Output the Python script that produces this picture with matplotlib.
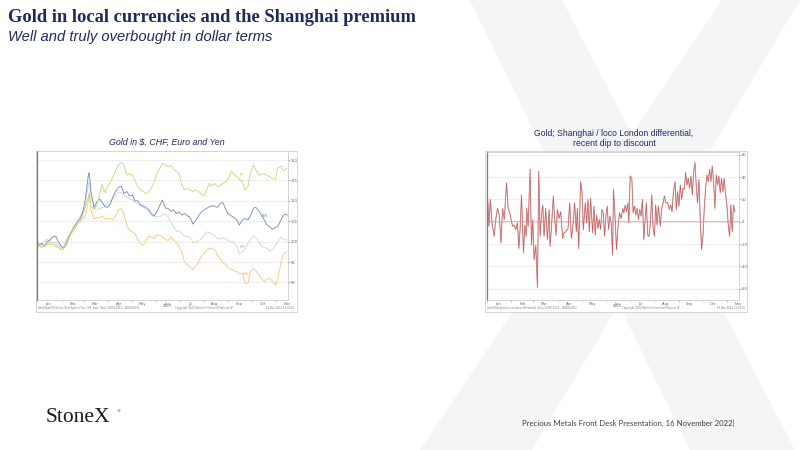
import matplotlib.pyplot as plt
import matplotlib.dates as mdates
from matplotlib.patches import Rectangle, Polygon
import pandas as pd

# ---------------- data ----------------
# left chart: gold indexed to 100 at end-2021, in four currencies
gold_dates = [
    "2021-12-31",
    "2022-01-03", "2022-01-06", "2022-01-10", "2022-01-13", "2022-01-17", "2022-01-20", "2022-01-24", "2022-01-27", "2022-01-31",
    "2022-02-03", "2022-02-07", "2022-02-10", "2022-02-14", "2022-02-17", "2022-02-21", "2022-02-24", "2022-02-28",
    "2022-03-03", "2022-03-07", "2022-03-08", "2022-03-10", "2022-03-14", "2022-03-17", "2022-03-21", "2022-03-24", "2022-03-28", "2022-03-31",
    "2022-04-04", "2022-04-07", "2022-04-11", "2022-04-14", "2022-04-18", "2022-04-21", "2022-04-25", "2022-04-28",
    "2022-05-02", "2022-05-05", "2022-05-09", "2022-05-12", "2022-05-16", "2022-05-19", "2022-05-23", "2022-05-26", "2022-05-30",
    "2022-06-02", "2022-06-06", "2022-06-09", "2022-06-13", "2022-06-16", "2022-06-20", "2022-06-23", "2022-06-27", "2022-06-30",
    "2022-07-04", "2022-07-07", "2022-07-11", "2022-07-14", "2022-07-18", "2022-07-21", "2022-07-25", "2022-07-28",
    "2022-08-01", "2022-08-04", "2022-08-08", "2022-08-11", "2022-08-15", "2022-08-18", "2022-08-22", "2022-08-25", "2022-08-29",
    "2022-09-01", "2022-09-05", "2022-09-08", "2022-09-12", "2022-09-15", "2022-09-19", "2022-09-22", "2022-09-26", "2022-09-29",
    "2022-10-03", "2022-10-06", "2022-10-10", "2022-10-13", "2022-10-17", "2022-10-20", "2022-10-24", "2022-10-27", "2022-10-31",
    "2022-11-03", "2022-11-07", "2022-11-10", "2022-11-14", "2022-11-15",
]
gold_usd = [
    100.0,
    98.9, 98.6, 98.9, 99.4, 99.8, 99.9, 99.3, 98.8, 98.1,
    98.2, 99.8, 101.1, 102.2, 103.0, 104.3, 104.7, 105.7,
    106.3, 110.2, 111.8, 107.8, 105.5, 106.0, 105.9, 106.3, 105.5, 105.7,
    105.6, 105.3, 106.5, 107.8, 108.1, 106.9, 103.8, 103.0,
    102.4, 102.0, 100.4, 99.4, 99.2, 100.2, 101.4, 101.1, 100.8,
    101.6, 101.6, 101.2, 100.6, 100.2, 101.1, 100.4, 99.8, 98.8,
    97.5, 95.1, 94.3, 93.9, 93.1, 93.9, 94.9, 96.2,
    97.1, 97.8, 98.3, 98.4, 98.0, 96.7, 95.7, 94.9, 94.3,
    93.5, 93.2, 92.9, 92.6, 92.1, 92.2, 89.8, 89.8, 92.6,
    93.5, 92.9, 91.8, 91.0, 90.2, 90.8, 91.0, 90.4, 89.4,
    91.0, 94.7, 97.0, 97.4, 97.5,
]
gold_jpy = [
    100.0,
    98.9, 98.8, 99.1, 99.3, 99.3, 99.4, 98.8, 98.6, 98.1,
    98.1, 100.0, 101.4, 102.7, 103.5, 104.7, 105.1, 106.5,
    108.6, 111.0, 112.0, 108.7, 107.9, 108.7, 111.4, 114.1, 112.0, 113.6,
    114.5, 115.9, 117.7, 118.8, 119.4, 118.8, 116.3, 116.6,
    116.3, 115.0, 113.5, 112.8, 112.3, 111.8, 112.3, 113.1, 114.7,
    116.7, 118.0, 119.2, 118.8, 118.4, 118.8, 117.7, 117.2, 116.7,
    113.9, 112.7, 113.1, 112.7, 112.3, 112.7, 112.3, 111.8,
    111.2, 112.5, 114.3, 113.6, 114.3, 113.5, 113.9, 114.3, 114.7,
    115.5, 117.2, 116.6, 115.9, 115.3, 114.7, 112.7, 113.5, 116.7,
    118.8, 117.6, 116.3, 116.6, 116.6, 116.3, 115.9, 115.5, 115.3,
    118.0, 118.6, 117.4, 118.0, 118.0,
]
gold_eur = [
    100.0,
    99.2, 99.6, 98.9, 100.0, 100.4, 101.1, 101.4, 100.2, 98.9,
    98.4, 99.4, 101.1, 102.7, 103.8, 104.9, 105.5, 107.4,
    110.6, 116.6, 116.9, 112.3, 108.4, 109.6, 110.4, 109.8, 108.6, 108.4,
    109.4, 111.0, 112.5, 113.3, 113.6, 111.8, 112.3, 111.2,
    111.4, 110.0, 110.0, 109.0, 108.7, 108.4, 107.8, 106.8, 106.3,
    107.4, 109.0, 110.2, 108.2, 108.2, 107.4, 107.8, 106.9, 107.3,
    106.5, 106.9, 106.3, 106.1, 104.3, 105.1, 106.3, 107.1,
    107.8, 108.1, 108.6, 108.8, 108.7, 108.4, 109.4, 109.6, 107.8,
    106.8, 106.3, 106.0, 105.3, 104.1, 105.3, 105.7, 105.3, 106.3,
    108.2, 108.4, 107.5, 106.5, 105.3, 104.1, 103.7, 103.0, 103.5,
    103.8, 105.3, 106.5, 106.8, 106.5,
]
gold_chf = [
    100.0,
    99.4, 99.1, 100.2, 100.6, 100.0, 99.8, 99.9, 99.4, 98.6,
    98.6, 100.8, 101.6, 102.9, 103.8, 105.1, 106.1, 107.4,
    109.0, 114.3, 114.7, 111.4, 108.4, 107.9, 108.1, 108.3, 108.6, 109.4,
    110.0, 110.4, 111.4, 112.0, 112.0, 111.4, 111.0, 110.4,
    110.2, 109.8, 109.2, 108.9, 108.4, 107.9, 107.4, 106.5, 106.1,
    106.1, 106.1, 106.5, 106.8, 106.1, 104.9, 103.7, 102.5, 102.7,
    101.9, 101.4, 101.2, 101.2, 99.8, 99.9, 100.2, 100.6,
    101.4, 102.4, 102.2, 101.9, 101.4, 100.8, 100.6, 101.1, 100.6,
    100.2, 100.0, 99.9, 98.8, 97.0, 97.5, 98.0, 99.6, 100.7,
    101.4, 101.1, 99.9, 98.9, 98.6, 98.4, 97.7, 98.0, 99.2,
    99.8, 101.1, 100.6, 100.4, 100.4,
]
gold_ticks = [90, 95, 100, 105, 110, 115, 120]

# right chart: Shanghai minus loco London, $/oz, by day of 2022
prem_days = [
    0.0, 0.8, 2.5, 4.2, 6.7, 9.2, 11.3, 13.4, 15.6, 17.7,
    19.8, 21.9, 24.8, 26.9, 29.5, 32.4, 34.5, 36.6, 38.7, 40.4,
    42.1, 43.8, 46.3, 48.0, 49.7, 50.5, 52.2, 54.7, 56.4, 58.1,
    59.8, 61.9, 64.0, 65.7, 67.4, 69.1, 70.8, 72.4, 74.5, 76.7,
    78.8, 80.0, 81.7, 84.2, 85.9, 87.6, 89.3, 91.4, 93.5, 96.0,
    97.7, 99.8, 102.8, 104.9, 107.0, 109.1, 111.2, 113.3, 114.6, 116.3,
    118.8, 120.5, 122.2, 124.7, 126.4, 128.1, 129.8, 131.4, 134.0, 135.7,
    137.3, 139.0, 140.7, 142.4, 144.1, 145.8, 147.4, 149.1, 150.8, 152.5,
    154.2, 155.9, 157.6, 159.3, 160.5, 162.6, 164.3, 166.0, 168.1, 170.2,
    172.3, 173.6, 175.3, 177.0, 178.7, 179.9, 181.6, 183.7, 185.4, 187.1,
    188.8, 190.4, 192.1, 193.8, 195.5, 197.2, 198.9, 200.6, 202.2, 203.9,
    205.6, 207.3, 209.0, 210.7, 212.4, 214.0, 215.7, 217.4, 219.9, 221.6,
    223.7, 225.0, 226.7, 229.2, 231.3, 233.0, 234.7, 236.4, 238.5, 240.1,
    241.8, 243.5, 245.2, 246.9, 248.6, 250.3, 251.9, 253.6, 255.3, 257.0,
    258.7, 260.4, 262.1, 263.8, 265.4, 267.1, 268.8, 270.5, 272.2, 273.9,
    275.6, 277.3, 279.0, 280.6, 282.3, 284.0, 285.7, 287.4, 289.1, 290.8,
    292.5, 294.1, 295.8, 297.5, 299.2, 300.9, 302.6, 304.3, 306.0, 307.7,
    309.3, 311.0, 312.7, 314.4,
]
prem_values = [
    -4, 21, -4, 20, -3, -13, 3, 12, 6, -19,
    12, 2, 35, 12, 6, -4, -3, -7, -1, -24,
    -6, 24, -28, -3, -13, 12, -4, 47, -21, 2,
    -34, -21, -59, 45, -13, 6, 15, -13, 12, -16,
    11, -22, -6, 23, 2, -12, 11, 3, 9, -15,
    -10, -9, -6, 17, -15, -3, 17, -9, 12, -24,
    36, 27, -7, 17, -1, 20, -9, 21, -10, 14,
    -12, 6, -6, 2, -7, 11, 8, -13, 5, 14,
    -7, 5, -1, -30, 29, 2, -25, -6, 8, 3,
    12, 8, 15, 9, 17, -1, 41, 39, 8, 14,
    6, 12, 2, 11, 5, 20, -16, 2, 17, -12,
    -13, -1, 24, -6, -13, 15, -3, 14, -4, 12,
    18, 23, 17, 17, 11, 15, 9, 26, 36, 11,
    27, 14, 33, 20, 30, 29, 44, 33, 39, 30,
    41, 24, 45, 53, 33, 17, 38, 2, -25, -13,
    12, 30, 42, 36, 47, 36, 50, 36, 12, 42,
    33, 41, 26, 39, 27, 39, 24, 15, -3, -13,
    15, -9, 15, 9,
]
prem_ticks = [-60, -40, -20, 0, 20, 40, 60]

# ---------------- figure ----------------
W, H = 800, 450
NAVY = "#1f2a5c"
fig = plt.figure(figsize=(8, 4.5), dpi=100)


def px_rect(x0, y0, x1, y1):
    # slide pixels -> figure fraction rect
    return [x0 / W, 1 - y1 / H, (x1 - x0) / W, (y1 - y0) / H]


# background: faint X watermark + chart frames
bg = fig.add_axes([0, 0, 1, 1], zorder=0)
bg.set_xlim(0, W)
bg.set_ylim(H, 0)
bg.axis("off")
bg.add_patch(Polygon([(470, 0), (562, 0), (795, 450), (690, 450)], color="#f4f5f7", lw=0))
bg.add_patch(Polygon([(722, 0), (800, 0), (532, 450), (420, 450)], color="#f4f5f7", lw=0))
for x0, y0, x1, y1 in [(35.5, 150.5, 297, 312), (484.5, 151, 747, 311.5)]:
    bg.add_patch(Rectangle((x0, y0), x1 - x0, y1 - y0, facecolor="white", edgecolor="#d0d0d0", lw=0.6))

fig.text(8 / W, 1 - 18 / H, "Gold in local currencies and the Shanghai premium",
         family="Liberation Serif", weight="bold", fontsize=13.3, color=NAVY, va="center")
fig.text(8 / W, 1 - 37 / H, "Well and truly overbought in dollar terms",
         family="Liberation Sans", style="italic", fontsize=10.6, color=NAVY, va="center")

start = pd.Timestamp("2022-01-01")
xlo = start - pd.Timedelta(days=0.6)
xhi = start + pd.Timedelta(days=319)


def style_axes(ax, ticks, tick_fmt):
    ax.set_facecolor("white")
    for side in ["top", "right", "bottom"]:
        ax.spines[side].set_color("#c4c4c4")
        ax.spines[side].set_linewidth(0.5)
    ax.spines["left"].set_color("#7a7a7a")
    ax.spines["left"].set_linewidth(0.9)
    ax.yaxis.tick_right()
    ax.set_yticks(ticks)
    ax.set_yticklabels([tick_fmt(t) for t in ticks])
    ax.grid(axis="y", color="#ebebeb", lw=0.6)
    ax.tick_params(axis="y", labelsize=2.6, length=1.2, width=0.4, pad=1, colors="#666666")
    ax.xaxis.set_major_locator(mdates.MonthLocator(bymonthday=15))
    ax.xaxis.set_major_formatter(mdates.DateFormatter("%b"))
    ax.xaxis.set_minor_locator(mdates.MonthLocator())
    ax.tick_params(axis="x", which="major", labelsize=2.6, length=0, pad=1.2, colors="#666666")
    ax.tick_params(axis="x", which="minor", length=1.2, width=0.4, colors="#999999")
    ax.set_xlim(xlo, xhi)
    ax.annotate("2022", xy=(pd.Timestamp("2022-06-15"), 0), xycoords=("data", "axes fraction"),
                xytext=(0, -4.6), textcoords="offset points", ha="center", va="center",
                fontsize=2.6, color="#666666")


# ---------------- left chart ----------------
fig.text(167 / W, 1 - 142 / H, "Gold in $, CHF, Euro and Yen", family="Liberation Sans",
         style="italic", fontsize=6.4, color=NAVY, ha="center", va="center")
ax1 = fig.add_axes(px_rect(37, 150.7, 288, 300), zorder=1)
d = pd.to_datetime(gold_dates)
ax1.plot(d, gold_chf, color="#d2d4d9", lw=0.6)
ax1.plot(d, gold_usd, color="#fdc275", lw=0.6)
ax1.plot(d, gold_eur, color="#7089b4", lw=0.6)
ax1.plot(d, gold_jpy, color="#b6df7a", lw=0.6)
ax1.set_ylim(85.7, 122.3)
style_axes(ax1, gold_ticks, lambda t: f"{t:d}")
for lab, day, val, col in [("JPY", "2022-09-18", 116.4, "#9cc861"), ("EUR", "2022-10-17", 106.2, "#6480ad"),
                           ("CHF", "2022-09-20", 98.8, "#aaaaaa"), ("USD", "2022-09-24", 92.1, "#f0a850")]:
    ax1.text(pd.Timestamp(day), val, lab, fontsize=2.2, color=col, ha="center", va="center")

fig.text(38 / W, 1 - 308 / H, "Gold Spot/US Dollar, Gold Spot in Yen, CHF, Euro  Daily 31DEC2021 - 16NOV2022",
         fontsize=1.8, color="#777777", va="center")
fig.text(175 / W, 1 - 308 / H, "Copyright 2022 Refinitiv Financial Products LP",
         fontsize=1.8, color="#777777", va="center")
fig.text(294 / W, 1 - 308 / H, "16-Nov-2022 12:00:00", fontsize=1.8, color="#777777", va="center", ha="right")

# ---------------- right chart ----------------
fig.text(614 / W, 1 - 133 / H, "Gold; Shanghai / loco London differential,", family="Liberation Sans",
         fontsize=6.2, color=NAVY, ha="center", va="center")
fig.text(614 / W, 1 - 144 / H, "recent dip to discount", family="Liberation Sans",
         fontsize=6.2, color=NAVY, ha="center", va="center")
ax2 = fig.add_axes(px_rect(486.5, 151.5, 738.5, 300), zorder=1)
pdates = start + pd.to_timedelta(prem_days, unit="D")
ax2.axhline(0, color="#f7b0b0", lw=1.3, zorder=1)
ax2.plot(pdates, prem_values, color="#eac4c4", lw=0.9, zorder=2)
ax2.plot(pdates, prem_values, color="#bb5a5c", lw=0.45, zorder=3)
ax2.set_ylim(-70.2, 63)
style_axes(ax2, prem_ticks, lambda t: f"{t:d}")

fig.text(487 / W, 1 - 308 / H, "Gold Shanghai/loco London differential  Daily 31DEC2021 - 16NOV2022",
         fontsize=1.8, color="#777777", va="center")
fig.text(622 / W, 1 - 308 / H, "Copyright 2022 Refinitiv Financial Products LP",
         fontsize=1.8, color="#777777", va="center")
fig.text(745 / W, 1 - 308 / H, "16-Nov-2022 12:00:00", fontsize=1.8, color="#777777", va="center", ha="right")

# ---------------- footer ----------------
fig.text(46 / W, 1 - 418 / H, "StoneX", family="Liberation Serif", fontsize=15.5, color="#1a1a1a", va="center")
fig.text(116 / W, 1 - 411 / H, "\u00ae", fontsize=3, color="#1a1a1a", va="center")
fig.text(735 / W, 1 - 423 / H, "Precious Metals Front Desk Presentation, 16 November 2022|",
         family="Lato", fontsize=5.6, color="#404040", ha="right", va="center")

fig.savefig("out.png", dpi=100, facecolor="white")
